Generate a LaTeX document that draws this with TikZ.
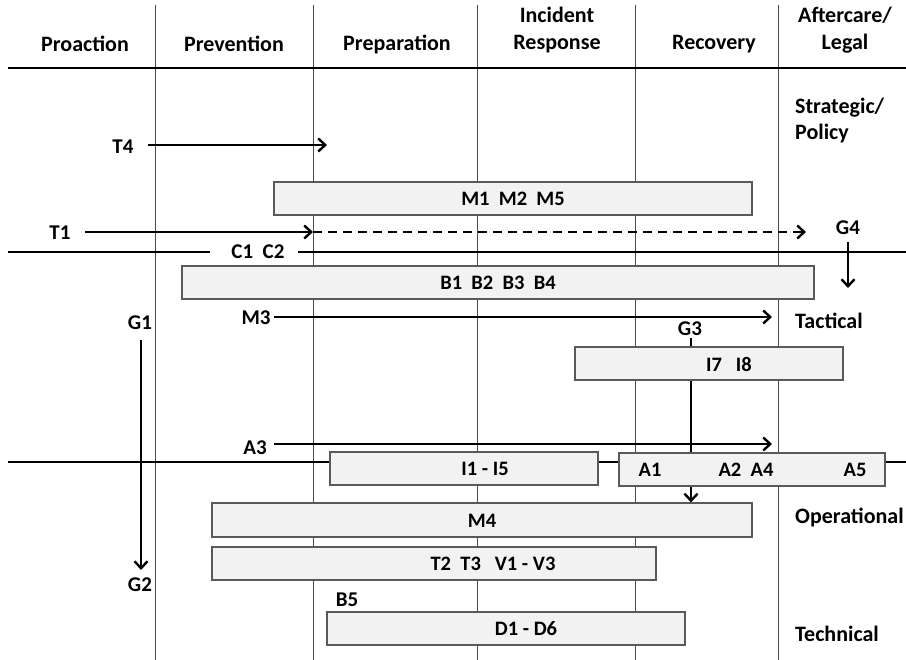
\documentclass[tikz,border=0pt]{standalone}
\usepackage{fontspec}
\setmainfont{Carlito}
\usetikzlibrary{arrows.meta}
\begin{document}
\begin{tikzpicture}[x=1pt,y=-1pt,
  grid/.style={draw=black!70,line width=1pt},
  hline/.style={draw=black,line width=1.1pt},
  lbl/.style={font=\bfseries\fontsize{21}{23}\selectfont,inner sep=0pt},
  btxt/.style={font=\bfseries\fontsize{20.5}{22}\selectfont,inner sep=0pt},
  hdr/.style={font=\bfseries\fontsize{22}{27}\selectfont,inner sep=0pt,align=center},
  side/.style={font=\bfseries\fontsize{22}{26}\selectfont,inner sep=0pt,align=left,anchor=west},
  box/.style={draw=black!65,fill=black!5,line width=1.1pt,inner sep=0pt},
  arr/.style={line width=2.8pt,-{Straight Barb[length=7pt,width=13pt,line width=2.4pt]}},
  ln/.style={line width=2.8pt}]
\useasboundingbox (0,0) rectangle (906,660);
% grid
\foreach \x in {155,313,477,635,778} \draw[grid] (\x,5) -- (\x,660);
\draw[hline] (8,68) -- (906,68);
\draw[hline] (8,252) -- (210,252);
\draw[hline] (298,252) -- (906,252);
\draw[hline] (8,462) -- (906,462);
% headers
\node[hdr] (hpro) at (85,44) {Proaction};
\node[hdr] (hprev) at (234,44) {Prevention};
\node[hdr] (hprep) at (397,44) {Preparation};
\node[hdr] (hinc) at (557,30) {Incident\\Response};
\node[hdr] (hrec) at (714,44) {Recovery};
\node[hdr] (haft) at (845,30) {Aftercare/\\Legal};
% side labels
\node[side] (sstrat) at (795,121) {Strategic/\\Policy};
\node[side] (stac) at (795,321) {Tactical};
\node[side] (sop) at (795,517) {Operational};
\node[side] (stech) at (795,634) {Technical};
% boxes
\node[box,minimum width=478,minimum height=33] (bm) at (513,198.5) {};
\node[btxt] (tm) at (513,199) {M1\ \ M2\ \ M5};
\node[box,minimum width=632,minimum height=33] (bb) at (498,282.5) {};
\node[btxt] (tb) at (498,283) {B1\ \ B2\ \ B3\ \ B4};
\node[box,minimum width=268,minimum height=33] (bi7) at (709,363.5) {};
\node[btxt] (ti7) at (729,364) {I7\ \ \ I8};
\node[box,minimum width=268,minimum height=33] (bi1) at (464,468.5) {};
\node[btxt] (ti1) at (485,469) {I1 - I5};
\node[box,minimum width=540,minimum height=34] (bm4) at (482,520) {};
\node[btxt] (tm4) at (482,520.5) {M4};
\node[box,minimum width=444,minimum height=33] (bt2) at (434,563.5) {};
\node[btxt] (tt2) at (493,564) {T2\ \ T3\ \ \ V1 - V3};
\node[box,minimum width=358,minimum height=33] (bd) at (506,628.5) {};
\node[btxt] (td) at (526,629) {D1 - D6};
% labels
\node[lbl] (t4) at (123,147) {T4};
\node[lbl] (t1) at (60,233) {T1};
\node[lbl] (g4) at (848,228) {G4};
\node[lbl] (c12) at (258,252) {C1\ \ C2};
\node[lbl] (m3) at (256,318) {M3};
\node[lbl] (g3) at (690,329) {G3};
\node[lbl] (g1) at (140,323) {G1};
\node[lbl] (g2) at (140,585) {G2};
\node[lbl] (a3) at (255,448) {A3};
\node[lbl] (b5) at (347,600) {B5};
% coordinates
\coordinate (t4s) at (148,145);
\coordinate (t4e) at (327,145);
\coordinate (t1s) at (85,232);
\coordinate (t1m) at (313,232);
\coordinate (t1e) at (806,232);
\coordinate (g4s) at (848,242);
\coordinate (g4e) at (848,288);
\coordinate (m3s) at (274,317);
\coordinate (m3e) at (772,317);
\coordinate (a3s) at (274,444);
\coordinate (a3e) at (772,444);
\coordinate (g1s) at (141,340);
\coordinate (g1e) at (141,570);
\coordinate (g3s) at (691,338);
% arrows
\draw[arr] (t4s) -- (t4e);
\draw[arr] (t1s) -- (t1m);
\draw[arr,dash pattern=on 9pt off 6pt] (t1m) -- (t1e);
\draw[arr] (g4s) -- (g4e);
\draw[arr] (m3s) -- (m3e);
\draw[arr] (a3s) -- (a3e);
\draw[arr] (g1s) -- (g1e);
\draw[ln] (g3s) -- (g3s |- bi7.north);
\draw[arr] (bi7.south -| g3s) -- (bm4.north -| g3s);
% A box drawn over the G3 arrow
\node[box,minimum width=266,minimum height=33] (ba) at (752,469.5) {};
\node[btxt] (a1) at (650,470) {A1};
\node[btxt] (a24) at (746,470) {A2\ \ A4};
\node[btxt] (a5) at (855,470) {A5};
\end{tikzpicture}
\end{document}
